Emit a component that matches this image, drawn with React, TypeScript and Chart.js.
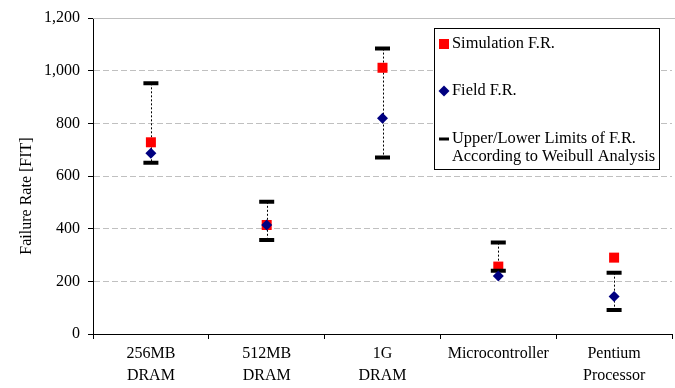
import React, { useEffect, useRef } from 'react';
import { Chart, registerables } from 'chart.js';

Chart.register(...registerables);

const categories: (string | string[])[] = [
  ['256MB', 'DRAM'],
  ['512MB', 'DRAM'],
  ['1G', 'DRAM'],
  'Microcontroller',
  ['Pentium', 'Processor'],
];
const simulationFR = [728, 414, 1011, 256, 290];
const fieldFR = [686, 414, 819, 220, 142];
const upperLimit = [952, 502, 1084, 347, 233];
const lowerLimit = [650, 357, 670, 240, 91];
const yMin = 0;
const yMax = 1200;
const yStep = 200;
const yTitle = 'Failure Rate [FIT]';
const legendLabels = ['Simulation F.R.', 'Field F.R.', 'Upper/Lower Limits of F.R.', 'According to Weibull Analysis'];

const FONT = '"Liberation Serif", "Times New Roman", serif';

export default function App() {
  const ref = useRef<HTMLCanvasElement | null>(null);

  useEffect(() => {
    document.body.style.margin = '0';
    const canvas = ref.current;
    if (!canvas) return;

    const extras = {
      id: 'extras',
      beforeDatasetsDraw(chart: any) {
        const { ctx, chartArea, scales } = chart;
        ctx.save();
        ctx.strokeStyle = '#bfbfbf';
        ctx.lineWidth = 1;
        ctx.beginPath();
        ctx.moveTo(chartArea.left, chartArea.top + 0.5);
        ctx.lineTo(chartArea.right + 3, chartArea.top + 0.5);
        ctx.stroke();
        ctx.strokeStyle = '#000000';
        ctx.setLineDash([2, 2]);
        ctx.lineWidth = 1;
        for (let i = 0; i < categories.length; i++) {
          const x = Math.round(scales.x.getPixelForValue(i)) + 0.5;
          ctx.beginPath();
          ctx.moveTo(x, scales.y.getPixelForValue(upperLimit[i]));
          ctx.lineTo(x, scales.y.getPixelForValue(lowerLimit[i]));
          ctx.stroke();
        }
        ctx.restore();
      },
      afterDraw(chart: any) {
        const { ctx } = chart;
        ctx.save();
        ctx.font = `16px ${FONT}`;
        ctx.fillStyle = '#000';
        ctx.textAlign = 'center';
        ctx.textBaseline = 'middle';
        ctx.translate(27, 196);
        ctx.rotate(-Math.PI / 2);
        ctx.fillText(yTitle, 0, 0);
        ctx.restore();

        ctx.save();
        const bx = 434.5, by = 28.5, bw = 225, bh = 141;
        ctx.fillStyle = '#fff';
        ctx.fillRect(bx, by, bw, bh);
        ctx.strokeStyle = '#000';
        ctx.lineWidth = 1;
        ctx.strokeRect(bx, by, bw, bh);
        const mx = 444;
        ctx.fillStyle = '#ff0000';
        ctx.fillRect(mx - 5, 44 - 5, 10, 10);
        ctx.fillStyle = '#000080';
        ctx.beginPath();
        ctx.moveTo(mx, 91 - 5.5);
        ctx.lineTo(mx + 5.5, 91);
        ctx.lineTo(mx, 91 + 5.5);
        ctx.lineTo(mx - 5.5, 91);
        ctx.closePath();
        ctx.fill();
        ctx.fillStyle = '#000';
        ctx.fillRect(mx - 5, 139 - 1.5, 10, 3);
        ctx.font = `16.4px ${FONT}`;
        ctx.textAlign = 'left';
        ctx.textBaseline = 'middle';
        ctx.fillText(legendLabels[0], 452, 44);
        ctx.fillText(legendLabels[1], 452, 91);
        ctx.fillText(legendLabels[2], 452, 139);
        ctx.fillText(legendLabels[3], 452, 157);
        ctx.restore();
      },
    };

    const chart = new Chart(canvas, {
      type: 'line',
      data: {
        labels: categories as any,
        datasets: [
          {
            label: 'Simulation F.R.',
            data: simulationFR,
            showLine: false,
            pointStyle: 'rect',
            pointRadius: 7.07,
            pointHoverRadius: 7.07,
            backgroundColor: '#ff0000',
            borderColor: '#ff0000',
            borderWidth: 0,
            order: 3,
          },
          {
            label: 'Upper Limit',
            data: upperLimit,
            showLine: false,
            pointStyle: 'line',
            pointRadius: 7.5,
            pointHoverRadius: 7.5,
            borderColor: '#000000',
            backgroundColor: '#000000',
            pointBorderWidth: 4,
            order: 2,
          },
          {
            label: 'Lower Limit',
            data: lowerLimit,
            showLine: false,
            pointStyle: 'line',
            pointRadius: 7.5,
            pointHoverRadius: 7.5,
            borderColor: '#000000',
            backgroundColor: '#000000',
            pointBorderWidth: 4,
            order: 2,
          },
          {
            label: 'Field F.R.',
            data: fieldFR,
            showLine: false,
            pointStyle: 'rectRot',
            pointRadius: 5.5,
            pointHoverRadius: 5.5,
            backgroundColor: '#000080',
            borderColor: '#000080',
            borderWidth: 0,
            order: 1,
          },
        ],
      },
      options: {
        animation: false,
        responsive: false,
        maintainAspectRatio: false,
        layout: { autoPadding: false, padding: { top: 18, right: 3, left: 0, bottom: 0 } },
        plugins: {
          legend: { display: false },
          tooltip: { enabled: false },
        },
        scales: {
          x: {
            type: 'category',
            offset: true,
            grid: {
              display: true,
              offset: true,
              drawOnChartArea: false,
              drawTicks: true,
              tickLength: 5,
              tickColor: '#000',
            },
            border: { display: true, color: '#000', width: 1 },
            ticks: {
              color: '#000',
              font: { family: FONT, size: 16, lineHeight: 1.35 },
              padding: 4,
              maxRotation: 0,
              autoSkip: false,
            },
            afterFit(scale: any) {
              scale.height = 54;
              scale.paddingLeft = 0;
              scale.paddingRight = 0;
            },
          },
          y: {
            type: 'linear',
            min: yMin,
            max: yMax,
            grid: {
              color: '#c0c0c0',
              tickColor: '#000',
              tickLength: 5,
              drawTicks: true,
            },
            border: { display: true, color: '#000', width: 1, dash: [6, 3] },
            ticks: {
              stepSize: yStep,
              color: '#000',
              padding: 8,
              font: { family: FONT, size: 16 },
              callback: (v: any) => Number(v).toLocaleString('en-US'),
            },
            afterFit(scale: any) {
              scale.width = 93;
            },
          },
        },
      },
      plugins: [extras],
    });

    return () => chart.destroy();
  }, []);

  return (
    <div style={{ width: 675, height: 388 }}>
      <canvas ref={ref} width={675} height={388} style={{ display: 'block', width: 675, height: 388 }} />
    </div>
  );
}
